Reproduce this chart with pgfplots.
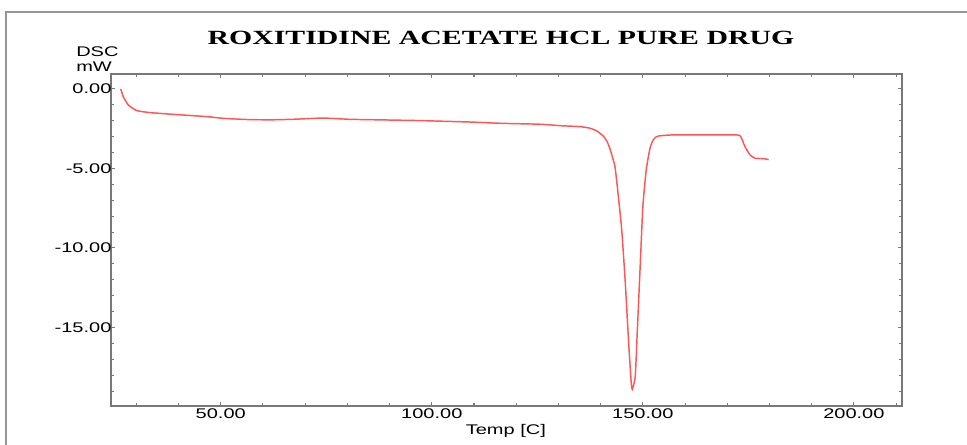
\documentclass[border=0pt]{standalone}
\usepackage{pgfplots}
\pgfplotsset{compat=1.18}
\usepackage{fontspec}
\setmainfont{Liberation Sans}[FakeStretch=1.43]
\newfontfamily\titlefont{Liberation Serif}[FakeStretch=1.48]
\definecolor{dsccurve}{RGB}{255,85,85}
\definecolor{axisgray}{RGB}{120,120,120}
\definecolor{framegray}{RGB}{150,150,150}

% DSC thermogram: temperature (C) vs heat flow (mW)
\pgfplotstableread{
T      dsc
26.3   0.00
26.9  -0.48
28.1  -1.01
30.1  -1.36
33.3  -1.49
41.1  -1.64
46.7  -1.74
50.6  -1.85
56.9  -1.93
62.5  -1.94
68.0  -1.90
74.2  -1.83
80.6  -1.91
88.9  -1.95
97.2  -1.99
102.4 -2.03
109.1 -2.08
116.2 -2.16
125.7 -2.22
130.4 -2.31
135.1 -2.37
137.5 -2.47
139.2 -2.66
140.7 -2.98
141.6 -3.35
142.3 -3.84
143.4 -4.89
144.2 -6.77
145.0 -8.87
145.8 -12.01
146.6 -15.79
147.2 -18.30
147.5 -18.89
148.2 -18.09
148.7 -15.16
149.4 -10.96
150.0 -7.40
150.8 -5.09
151.6 -3.84
152.2 -3.33
152.9 -3.07
153.7 -2.96
157.3 -2.89
171.5 -2.89
173.1 -2.96
174.2 -3.63
175.4 -4.15
176.6 -4.36
178.6 -4.38
179.8 -4.45
}\dscdata

\begin{document}
\begin{tikzpicture}
\useasboundingbox (0,0) rectangle (725.25pt,333.75pt);
% outer frame
\draw[framegray, line width=1.4pt] (4.5pt,-2pt) -- (4.5pt,324.75pt) -- (730pt,324.75pt);
\begin{axis}[
  at={(83.25pt,29.25pt)}, anchor=south west,
  scale only axis, width=593.25pt, height=249pt,
  xmin=24, xmax=211.4, ymin=-19.94, ymax=0.94,
  axis line style={axisgray, line width=1.3pt},
  every tick/.style={axisgray, line width=0.8pt},
  tick align=inside,
  major tick length=3pt, minor tick length=1.9pt,
  xtick={50,100,150,200},
  xticklabels={50.00,100.00,150.00,200.00},
  minor xtick={30,40,60,70,80,90,110,120,130,140,160,170,180,190,210},
  ytick={0,-5,-10,-15},
  yticklabels={0.00,-5.00,-10.00,-15.00},
  minor ytick={-1,-2,-3,-4,-6,-7,-8,-9,-11,-12,-13,-14,-16,-17,-18,-19},
  tick label style={font=\fontsize{10.5pt}{12pt}\selectfont, text=black},
  yticklabel style={anchor=east, inner sep=0pt, xshift=0.5pt},
  xticklabel style={anchor=north, inner sep=0pt, yshift=-2pt},
  clip=false,
]
\addplot[dsccurve, line width=1.1pt, smooth, tension=0.3] table[x=T, y=dsc] {\dscdata};
\end{axis}
\node[anchor=base, font=\titlefont\bfseries\fontsize{15.1pt}{18pt}\selectfont] at (375.75pt,300pt) {ROXITIDINE ACETATE HCL PURE DRUG};
\node[anchor=base west, inner sep=0pt, font=\fontsize{10.5pt}{12pt}\selectfont] at (57pt,291.2pt) {DSC};
\node[anchor=base west, inner sep=0pt, font=\fontsize{10.5pt}{12pt}\selectfont] at (57pt,279.9pt) {mW};
\node[anchor=base, inner sep=0pt, font=\fontsize{10.5pt}{12pt}\selectfont] at (379.4pt,7.5pt) {Temp [C]};
\end{tikzpicture}
\end{document}
